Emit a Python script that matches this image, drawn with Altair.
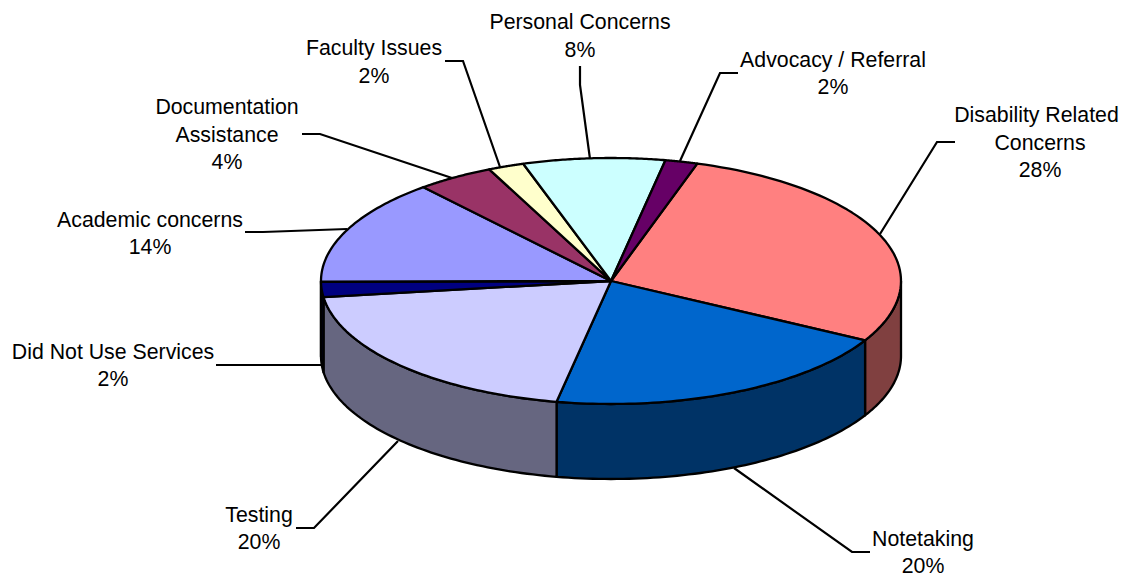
import math
import altair as alt
import pandas as pd

categories = ["Disability Related Concerns", "Notetaking", "Testing", "Did Not Use Services",
              "Academic concerns", "Documentation Assistance", "Faculty Issues",
              "Personal Concerns", "Advocacy / Referral"]
values = [28.2, 20.0, 19.9, 2.0, 13.9, 4.3, 2.0, 7.9, 1.8]
top_colors = ["#FF8080", "#0066CC", "#CCCCFF", "#000080", "#9999FF", "#993366", "#FFFFCC", "#CCFFFF", "#660066"]
side_colors = ["#804040", "#003366", "#666680", "#000040", "#4D4D80", "#4D1A33", "#808066", "#668080", "#330033"]
start_angle = 17.3

label_lines = [
    ("Personal Concerns", 580, 21), ("8%", 580, 49),
    ("Advocacy / Referral", 833, 59), ("2%", 833, 86),
    ("Disability Related", 1036.5, 114), ("Concerns", 1040, 142), ("28%", 1040, 169),
    ("Notetaking", 923, 538), ("20%", 923, 565),
    ("Testing", 259, 514), ("20%", 259, 541),
    ("Did Not Use Services", 113, 351), ("2%", 113, 378),
    ("Academic concerns", 150, 219), ("14%", 150, 246),
    ("Documentation", 227, 106), ("Assistance", 227, 134), ("4%", 227, 161),
    ("Faculty Issues", 374, 47), ("2%", 374, 75),
]
leaders = {
    "Advocacy / Referral": [(680, 161), (720, 73), (738, 73)],
    "Disability": [(880, 234), (937, 142), (955, 142)],
    "Notetaking": [(734, 468), (852, 552), (870, 552)],
    "Testing": [(398, 441), (314, 528), (296, 528)],
    "Did Not Use": [(322, 365), (216, 365)],
    "Academic": [(347, 229), (263, 232), (245, 232)],
    "Documentation": [(452, 178), (320, 134), (302, 134)],
    "Faculty": [(500, 167), (463, 61), (445, 61)],
    "Personal": [(590, 159), (580, 85), (580, 66)],
}

CX, CY, RX, RY, DEPTH = 611, 281, 290, 123, 75


def pt(deg, dy=0):
    r = math.radians(deg)
    return CX + RX * math.sin(r), CY - RY * math.cos(r) + dy


total = sum(values)
rows, sides = [], []
a = start_angle
for i, (cat, v) in enumerate(zip(categories, values)):
    b = a + v / total * 360
    seq = [(CX, CY)] + [pt(a + (b - a) * k / 60) for k in range(61)] + [(CX, CY)]
    for k, (x, y) in enumerate(seq):
        rows.append({"cat": cat, "o": k, "x": x, "y": y})
    lo, hi = max(a, 90), min(b, 270)
    if hi > lo:
        arc = [lo + (hi - lo) * k / 60 for k in range(61)]
        seq = [pt(t) for t in arc] + [pt(t, DEPTH) for t in reversed(arc)] + [pt(arc[0])]
        for k, (x, y) in enumerate(seq):
            sides.append({"cat": cat, "o": k, "x": x, "y": y})
    a = b

x_s = alt.X("x:Q", scale=alt.Scale(domain=[8, 1119], nice=False, zero=False), axis=None)
y_s = alt.Y("y:Q", scale=alt.Scale(domain=[576, 8], nice=False, zero=False), axis=None)


def wedge(df, colors):
    return alt.Chart(df).mark_line(filled=True, stroke="black", strokeWidth=2.3, strokeJoin="round", clip=False, interpolate="linear").encode(
        x=x_s, y=y_s, order="o:Q",
        detail="cat:N",
        fill=alt.Fill("cat:N", scale=alt.Scale(domain=categories, range=colors), legend=None),
    )


lead_rows = []
for name, pts in leaders.items():
    for k, (x, y) in enumerate(pts):
        lead_rows.append({"name": name, "o": k, "x": x, "y": y})
leader_layer = alt.Chart(pd.DataFrame(lead_rows)).mark_line(color="black", strokeWidth=2.2).encode(
    x=x_s, y=y_s, order="o:Q", detail="name:N")

text_df = pd.DataFrame(label_lines, columns=["t", "x", "y"])
text_layer = alt.Chart(text_df).mark_text(font="Liberation Sans", fontSize=21.3, color="black", align="center", baseline="middle", dy=1.5).encode(
    x=x_s, y=y_s, text="t:N")

chart = alt.layer(
    leader_layer,
    wedge(pd.DataFrame(sides), side_colors),
    wedge(pd.DataFrame(rows), top_colors),
    text_layer,
).resolve_scale(fill="independent").properties(
    width=1111, height=568, padding=0, autosize=alt.AutoSizeParams(type="none")
).configure_view(stroke=None)

chart.save("out.html", embed_options={"renderer": "svg", "actions": False})
